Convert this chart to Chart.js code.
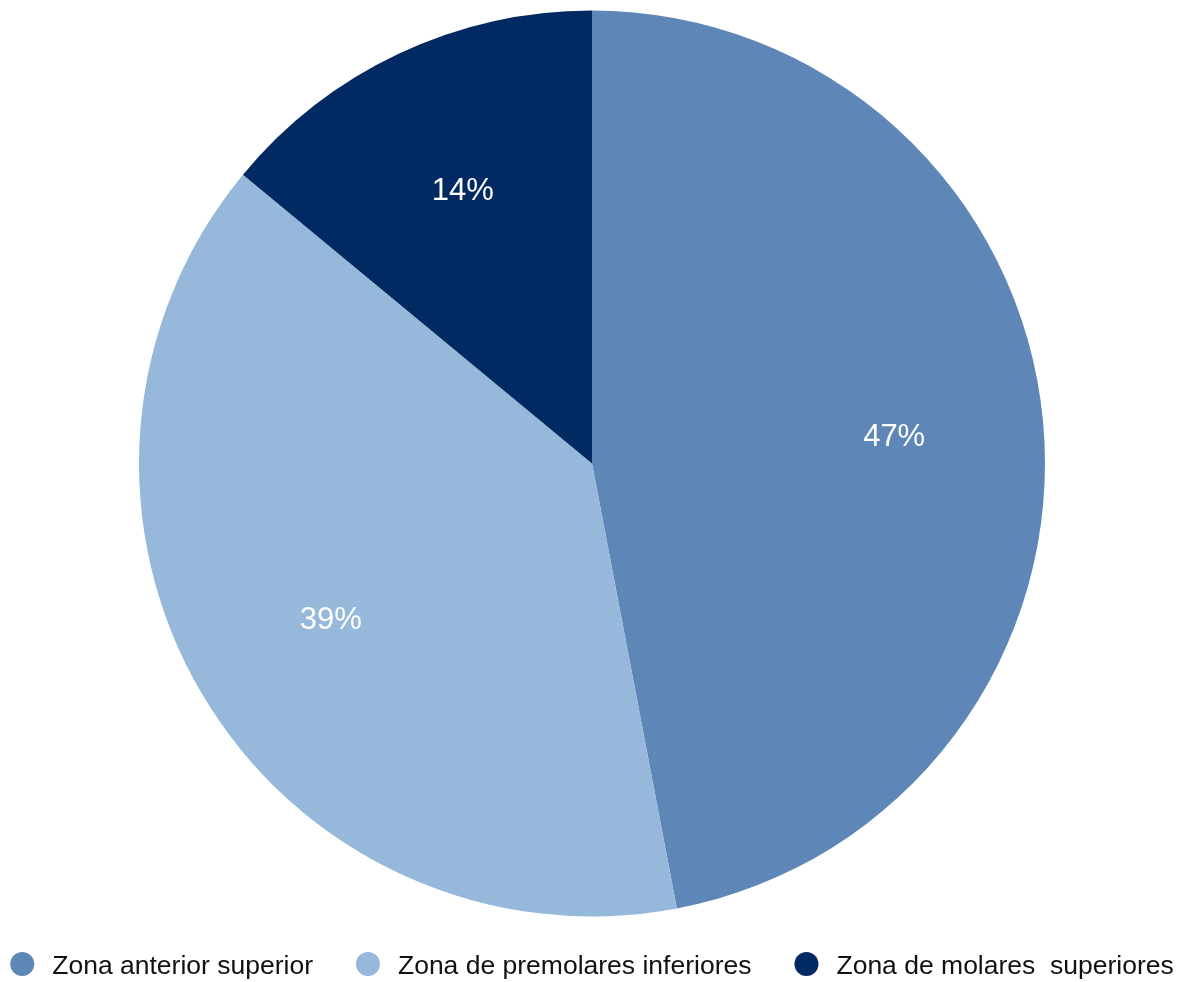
<!DOCTYPE html>
<html lang="es">
<head>
<meta charset="utf-8">
<title>Distribución por zona</title>
<script src="https://cdn.jsdelivr.net/npm/chart.js@4/dist/chart.umd.min.js"></script>
<style>
  html, body { margin: 0; padding: 0; background: #ffffff; }
  #wrap { width: 1184px; height: 982px; position: relative; }
</style>
</head>
<body>
<div id="wrap"><canvas id="chart" width="1184" height="982"></canvas></div>
<script>
// Zonas y porcentajes
const categories = ['Zona anterior superior', 'Zona de premolares inferiores', 'Zona de molares  superiores'];
const values = [47, 39, 14];

// Estilo
const sliceColors = ['#5E87B8', '#95B8DB', '#002A61'];
const FONT_FAMILY = '"Liberation Sans", Arial, Helvetica, sans-serif';

// Etiquetas de porcentaje dentro de cada sector
const sliceLabels = {
  id: 'sliceLabels',
  afterDatasetsDraw(chart) {
    const ctx = chart.ctx;
    const meta = chart.getDatasetMeta(0);
    const size = 31;
    ctx.save();
    ctx.font = `${size}px ${FONT_FAMILY}`;
    ctx.fillStyle = '#ffffff';
    ctx.textAlign = 'center';
    ctx.textBaseline = 'alphabetic';
    meta.data.forEach((arc, i) => {
      const p = arc.getProps(['x', 'y', 'startAngle', 'endAngle', 'outerRadius'], true);
      const mid = (p.startAngle + p.endAngle) / 2;
      const r = p.outerRadius * 0.67;
      const x = p.x + Math.cos(mid) * r;
      const y = p.y + Math.sin(mid) * r;
      ctx.fillText(values[i] + '%', x, y + size * 0.358);
    });
    ctx.restore();
  }
};

// Leyenda inferior con marcadores circulares
const bottomLegend = {
  id: 'bottomLegend',
  afterDraw(chart) {
    const ctx = chart.ctx;
    const size = 26.5;
    const dotR = 12;
    const textOffset = 30;
    const gap = 55;
    const cy = 964;
    ctx.save();
    ctx.font = `${size}px ${FONT_FAMILY}`;
    const widths = categories.map(c => ctx.measureText(c).width);
    const total = dotR + widths.reduce((s, w) => s + textOffset + w, 0) + gap * (categories.length - 1);
    let cx = (chart.width - total) / 2 + dotR;
    categories.forEach((label, i) => {
      ctx.beginPath();
      ctx.arc(cx, cy, dotR, 0, Math.PI * 2);
      ctx.fillStyle = sliceColors[i];
      ctx.fill();
      ctx.fillStyle = '#111111';
      ctx.textAlign = 'left';
      ctx.textBaseline = 'alphabetic';
      ctx.fillText(label, cx + textOffset, cy + size * 0.37);
      cx += textOffset + widths[i] + gap;
    });
    ctx.restore();
  }
};

new Chart(document.getElementById('chart'), {
  type: 'pie',
  data: {
    labels: categories,
    datasets: [{
      data: values,
      backgroundColor: sliceColors,
      borderWidth: 0,
      hoverBorderWidth: 0,
      hoverOffset: 0
    }]
  },
  options: {
    responsive: false,
    animation: false,
    layout: { padding: { top: 10.5, bottom: 65.5, left: 0, right: 0 } },
    plugins: {
      legend: { display: false },
      tooltip: { enabled: false }
    }
  },
  plugins: [sliceLabels, bottomLegend]
});
</script>
</body>
</html>
